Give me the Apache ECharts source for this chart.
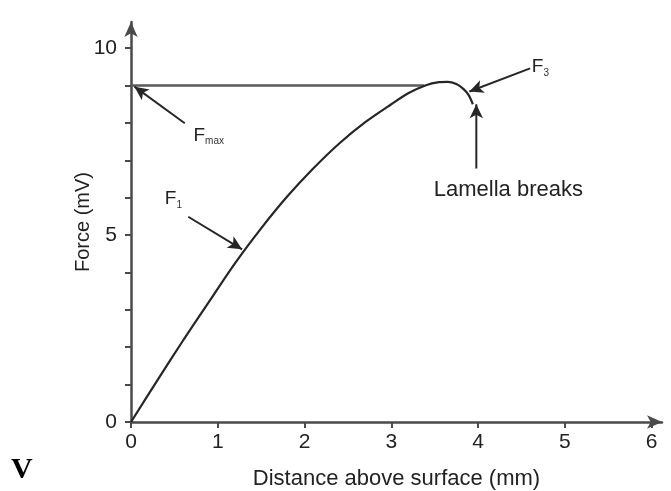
<!DOCTYPE html>
<html>
<head>
<meta charset="utf-8">
<script src="https://cdn.jsdelivr.net/npm/echarts@6/dist/echarts.min.js"></script>
<style>
  html, body { margin: 0; padding: 0; background: #fff; }
  #chart-container { width: 671px; height: 491px; }
</style>
</head>
<body>
<div id="chart-container"></div>
<script>
// force-distance curve
var distance = [0, 0.3, 0.6, 0.9, 1.2, 1.5, 1.8, 2.1, 2.4, 2.7, 3.0, 3.2, 3.4, 3.55, 3.65, 3.75, 3.83, 3.89, 3.94];
var force = [0, 1.10, 2.18, 3.22, 4.25, 5.18, 6.03, 6.78, 7.45, 8.02, 8.50, 8.80, 9.01, 9.09, 9.10, 9.04, 8.91, 8.75, 8.50];

// Fmax level line
var fmaxLine = [[0, 9], [3.38, 9]];

var xTicks = [0, 1, 2, 3, 4, 5, 6];
var yTicks = [0, 1, 2, 3, 4, 5, 6, 7, 8, 9, 10];
var yLabels = [0, 5, 10];

// annotation arrows: [from, to]
var arrows = [
    [[0.62, 7.99], [0.04, 8.97]],
    [[0.66, 5.49], [1.28, 4.62]],
    [[4.60, 9.46], [3.90, 8.84]],
    [[3.98, 6.78], [3.98, 8.50]]
];
// annotation texts: x, y, text
var notes = [
    [0.72, 7.67, '{f|F}{s|max}'],
    [0.39, 5.96, '{f|F}{s|1}'],
    [4.62, 9.50, '{f|F}{s|3}'],
    [3.49, 6.20, '{t|Lamella breaks}']
];

var chartDom = document.getElementById('chart-container');
var myChart = echarts.init(chartDom);

var FONT = "'Liberation Sans', Arial, sans-serif";
var AXIS_COLOR = '#4a4a4a';
var TEXT_COLOR = '#222';

var series = [
    {
        type: 'line',
        data: distance.map(function (d, i) { return [d, force[i]]; }),
        smooth: 0.3,
        symbol: 'none',
        lineStyle: { color: '#262626', width: 2.2 },
        z: 3
    },
    {
        type: 'line',
        data: fmaxLine,
        symbol: 'none',
        lineStyle: { color: '#5a5a5a', width: 2.6 },
        z: 2
    },
    {
        type: 'scatter',
        data: notes.map(function (n) { return [n[0], n[1], n[2]]; }),
        symbolSize: 0,
        itemStyle: { opacity: 1 },
        label: {
            show: true,
            position: 'right',
            distance: 0,
            opacity: 1,
            color: TEXT_COLOR,
            formatter: function (p) { return p.value[2]; },
            rich: {
                f: { fontFamily: FONT, fontSize: 19, color: TEXT_COLOR },
                s: { fontFamily: FONT, fontSize: 10, color: '#333', verticalAlign: 'bottom', padding: [12, 0, 0, 0] },
                t: { fontFamily: FONT, fontSize: 22, color: TEXT_COLOR }
            }
        },
        silent: true,
        z: 4
    }
];

arrows.forEach(function (a) {
    series.push({
        type: 'line',
        data: a,
        symbol: 'none',
        lineStyle: { color: '#262626', width: 2 },
        markLine: {
            silent: true,
            symbol: ['none', 'arrow'],
            symbolSize: [10, 14],
            label: { show: false },
            lineStyle: { color: '#262626', width: 0.01, type: 'solid' },
            data: [[{ coord: a[0] }, { coord: a[1] }]]
        },
        z: 4
    });
});

var option = {
    animation: false,
    grid: { left: 131, right: 9, top: 22, bottom: 69, outerBoundsMode: 'none', containLabel: false },
    xAxis: {
        type: 'value',
        min: 0,
        max: 6.12,
        name: 'Distance above surface (mm)',
        nameLocation: 'middle',
        nameGap: 46,
        nameMoveOverlap: false,
        nameTextStyle: { fontFamily: FONT, fontSize: 22, color: TEXT_COLOR },
        axisLine: {
            show: true,
            symbol: ['none', 'arrow'],
            symbolSize: [10, 15],
            lineStyle: { color: AXIS_COLOR, width: 2.5 }
        },
        axisTick: { show: true, length: 6, customValues: xTicks, lineStyle: { color: AXIS_COLOR, width: 2 } },
        axisLabel: { customValues: xTicks, margin: 10, fontFamily: FONT, fontSize: 21, color: TEXT_COLOR },
        splitLine: { show: false }
    },
    yAxis: {
        type: 'value',
        min: 0,
        max: 10.7,
        name: 'Force (mV)',
        nameLocation: 'middle',
        nameGap: 38,
        nameMoveOverlap: false,
        nameTextStyle: { fontFamily: FONT, fontSize: 20, color: TEXT_COLOR },
        axisLine: {
            show: true,
            symbol: ['none', 'arrow'],
            symbolSize: [10, 15],
            lineStyle: { color: AXIS_COLOR, width: 2.5 }
        },
        axisTick: { show: true, length: 6, customValues: yTicks, lineStyle: { color: AXIS_COLOR, width: 2 } },
        axisLabel: { customValues: yLabels, margin: 14, fontFamily: FONT, fontSize: 21, color: TEXT_COLOR },
        splitLine: { show: false }
    },
    graphic: [
        {
            type: 'text',
            left: 11,
            top: 455,
            style: { text: 'V', font: "bold 30px 'Liberation Serif', 'Times New Roman', serif", fill: '#000' }
        }
    ],
    series: series
};

myChart.setOption(option);
</script>
</body>
</html>
